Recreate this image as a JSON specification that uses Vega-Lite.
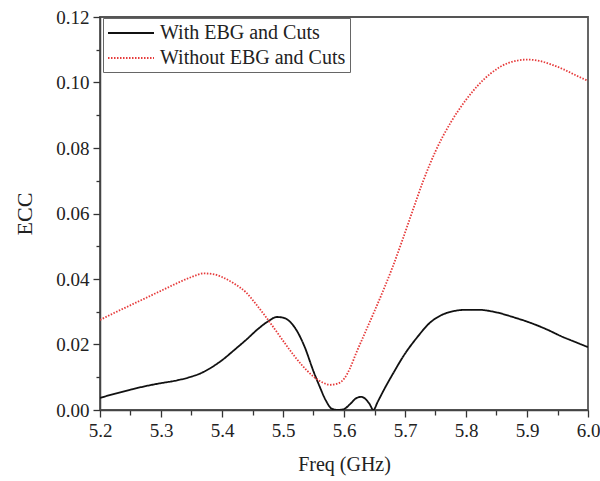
{
  "$schema": "https://vega.github.io/schema/vega-lite/v6.json",
  "autosize": "none",
  "width": 488,
  "height": 393,
  "padding": {"left": 100, "top": 17, "right": 12, "bottom": 71},
  "background": "white",
  "config": {
    "font": "Liberation Serif",
    "view": {"stroke": "#555555", "strokeWidth": 1.8},
    "axis": {"domainColor": "#444444", "domainWidth": 1.5, "tickColor": "#333333", "tickWidth": 1.3, "labelColor": "#222222", "titleColor": "#222222", "labelFont": "Liberation Serif", "titleFont": "Liberation Serif", "labelFontSize": 19, "titleFontSize": 20, "titleFontWeight": "normal", "grid": false}
  },
  "data": {
    "values": [
      {"series": "With EBG and Cuts", "f": 5.2, "v": 0.0037},
      {"series": "With EBG and Cuts", "f": 5.225, "v": 0.005},
      {"series": "With EBG and Cuts", "f": 5.25, "v": 0.0062},
      {"series": "With EBG and Cuts", "f": 5.275, "v": 0.0073},
      {"series": "With EBG and Cuts", "f": 5.3, "v": 0.0082},
      {"series": "With EBG and Cuts", "f": 5.325, "v": 0.009},
      {"series": "With EBG and Cuts", "f": 5.35, "v": 0.0102},
      {"series": "With EBG and Cuts", "f": 5.365, "v": 0.0112},
      {"series": "With EBG and Cuts", "f": 5.38, "v": 0.0127},
      {"series": "With EBG and Cuts", "f": 5.4, "v": 0.0152},
      {"series": "With EBG and Cuts", "f": 5.42, "v": 0.0183},
      {"series": "With EBG and Cuts", "f": 5.44, "v": 0.0215},
      {"series": "With EBG and Cuts", "f": 5.46, "v": 0.0249},
      {"series": "With EBG and Cuts", "f": 5.475, "v": 0.027},
      {"series": "With EBG and Cuts", "f": 5.49, "v": 0.0284},
      {"series": "With EBG and Cuts", "f": 5.5, "v": 0.0282},
      {"series": "With EBG and Cuts", "f": 5.51, "v": 0.0272},
      {"series": "With EBG and Cuts", "f": 5.52, "v": 0.025},
      {"series": "With EBG and Cuts", "f": 5.535, "v": 0.0195},
      {"series": "With EBG and Cuts", "f": 5.55, "v": 0.0118},
      {"series": "With EBG and Cuts", "f": 5.56, "v": 0.0072},
      {"series": "With EBG and Cuts", "f": 5.57, "v": 0.003},
      {"series": "With EBG and Cuts", "f": 5.58, "v": 0.0004},
      {"series": "With EBG and Cuts", "f": 5.59, "v": 0.0},
      {"series": "With EBG and Cuts", "f": 5.6, "v": 0.0003},
      {"series": "With EBG and Cuts", "f": 5.61, "v": 0.0018},
      {"series": "With EBG and Cuts", "f": 5.62, "v": 0.0036},
      {"series": "With EBG and Cuts", "f": 5.628, "v": 0.004},
      {"series": "With EBG and Cuts", "f": 5.635, "v": 0.0034},
      {"series": "With EBG and Cuts", "f": 5.642, "v": 0.0018},
      {"series": "With EBG and Cuts", "f": 5.648, "v": 0.0},
      {"series": "With EBG and Cuts", "f": 5.655, "v": 0.0024},
      {"series": "With EBG and Cuts", "f": 5.665, "v": 0.006},
      {"series": "With EBG and Cuts", "f": 5.68, "v": 0.011},
      {"series": "With EBG and Cuts", "f": 5.7, "v": 0.0172},
      {"series": "With EBG and Cuts", "f": 5.72, "v": 0.0222},
      {"series": "With EBG and Cuts", "f": 5.74, "v": 0.0265},
      {"series": "With EBG and Cuts", "f": 5.76, "v": 0.029},
      {"series": "With EBG and Cuts", "f": 5.78, "v": 0.0302},
      {"series": "With EBG and Cuts", "f": 5.8, "v": 0.0306},
      {"series": "With EBG and Cuts", "f": 5.82, "v": 0.0306},
      {"series": "With EBG and Cuts", "f": 5.85, "v": 0.0298},
      {"series": "With EBG and Cuts", "f": 5.88, "v": 0.0282},
      {"series": "With EBG and Cuts", "f": 5.9, "v": 0.027},
      {"series": "With EBG and Cuts", "f": 5.93, "v": 0.0248},
      {"series": "With EBG and Cuts", "f": 5.96, "v": 0.0222},
      {"series": "With EBG and Cuts", "f": 5.98, "v": 0.0207},
      {"series": "With EBG and Cuts", "f": 6.0, "v": 0.0192},
      {"series": "Without EBG and Cuts", "f": 5.2, "v": 0.0275},
      {"series": "Without EBG and Cuts", "f": 5.225, "v": 0.0298},
      {"series": "Without EBG and Cuts", "f": 5.25, "v": 0.032},
      {"series": "Without EBG and Cuts", "f": 5.275, "v": 0.0342},
      {"series": "Without EBG and Cuts", "f": 5.3, "v": 0.0364},
      {"series": "Without EBG and Cuts", "f": 5.325, "v": 0.0386},
      {"series": "Without EBG and Cuts", "f": 5.35, "v": 0.0406},
      {"series": "Without EBG and Cuts", "f": 5.37, "v": 0.0417},
      {"series": "Without EBG and Cuts", "f": 5.385, "v": 0.0415},
      {"series": "Without EBG and Cuts", "f": 5.4, "v": 0.0406},
      {"series": "Without EBG and Cuts", "f": 5.42, "v": 0.0386},
      {"series": "Without EBG and Cuts", "f": 5.44, "v": 0.0358},
      {"series": "Without EBG and Cuts", "f": 5.455, "v": 0.0325},
      {"series": "Without EBG and Cuts", "f": 5.47, "v": 0.0289},
      {"series": "Without EBG and Cuts", "f": 5.49, "v": 0.0238},
      {"series": "Without EBG and Cuts", "f": 5.51, "v": 0.0186},
      {"series": "Without EBG and Cuts", "f": 5.53, "v": 0.0139},
      {"series": "Without EBG and Cuts", "f": 5.55, "v": 0.0102},
      {"series": "Without EBG and Cuts", "f": 5.565, "v": 0.0084},
      {"series": "Without EBG and Cuts", "f": 5.577, "v": 0.0077},
      {"series": "Without EBG and Cuts", "f": 5.59, "v": 0.0081},
      {"series": "Without EBG and Cuts", "f": 5.6, "v": 0.0095},
      {"series": "Without EBG and Cuts", "f": 5.61, "v": 0.0128},
      {"series": "Without EBG and Cuts", "f": 5.62, "v": 0.0174},
      {"series": "Without EBG and Cuts", "f": 5.635, "v": 0.0238},
      {"series": "Without EBG and Cuts", "f": 5.65, "v": 0.0302},
      {"series": "Without EBG and Cuts", "f": 5.665, "v": 0.0368},
      {"series": "Without EBG and Cuts", "f": 5.68, "v": 0.0438},
      {"series": "Without EBG and Cuts", "f": 5.695, "v": 0.0515},
      {"series": "Without EBG and Cuts", "f": 5.71, "v": 0.0595},
      {"series": "Without EBG and Cuts", "f": 5.73, "v": 0.07},
      {"series": "Without EBG and Cuts", "f": 5.75, "v": 0.079},
      {"series": "Without EBG and Cuts", "f": 5.775, "v": 0.0878},
      {"series": "Without EBG and Cuts", "f": 5.8, "v": 0.0947},
      {"series": "Without EBG and Cuts", "f": 5.82, "v": 0.0992},
      {"series": "Without EBG and Cuts", "f": 5.84, "v": 0.1027},
      {"series": "Without EBG and Cuts", "f": 5.87, "v": 0.106},
      {"series": "Without EBG and Cuts", "f": 5.9, "v": 0.107},
      {"series": "Without EBG and Cuts", "f": 5.92, "v": 0.1066},
      {"series": "Without EBG and Cuts", "f": 5.94, "v": 0.1055},
      {"series": "Without EBG and Cuts", "f": 5.96, "v": 0.104},
      {"series": "Without EBG and Cuts", "f": 5.98, "v": 0.1022},
      {"series": "Without EBG and Cuts", "f": 6.0, "v": 0.1005}
    ]
  },
  "mark": {"type": "line", "interpolate": "monotone", "clip": true},
  "encoding": {
    "x": {
      "field": "f", "type": "quantitative",
      "scale": {"domain": [5.2, 6.0], "nice": false, "zero": false},
      "axis": {
        "title": "Freq (GHz)",
        "values": [5.2, 5.25, 5.3, 5.35, 5.4, 5.45, 5.5, 5.55, 5.6, 5.65, 5.7, 5.75, 5.8, 5.85, 5.9, 5.95, 6.0],
        "labelExpr": "abs(datum.value*10 - round(datum.value*10)) < 0.01 ? format(datum.value, '.1f') : ''",
        "tickSize": {"condition": {"test": "abs(datum.value*10 - round(datum.value*10)) > 0.01", "value": 5}, "value": 7},
        "labelPadding": 4,
        "labelFlush": false,
        "labelOverlap": false,
        "titlePadding": 14
      }
    },
    "y": {
      "field": "v", "type": "quantitative",
      "scale": {"domain": [0, 0.12], "nice": false},
      "axis": {
        "title": "ECC",
        "titleFontSize": 22,
        "values": [0, 0.01, 0.02, 0.03, 0.04, 0.05, 0.06, 0.07, 0.08, 0.09, 0.1, 0.11, 0.12],
        "labelExpr": "abs(datum.value*50 - round(datum.value*50)) < 0.01 ? format(datum.value, '.2f') : ''",
        "tickSize": {"condition": {"test": "abs(datum.value*50 - round(datum.value*50)) > 0.01", "value": 4}, "value": 7},
        "labelPadding": 4,
        "labelFlush": false,
        "labelOverlap": false,
        "titlePadding": 19
      }
    },
    "color": {
      "field": "series", "type": "nominal",
      "scale": {"domain": ["With EBG and Cuts", "Without EBG and Cuts"], "range": ["#111111", "#e63b3b"]},
      "legend": {
        "title": null,
        "orient": "none",
        "legendX": 3,
        "legendY": 1,
        "symbolType": "M-1,0H3.6",
        "symbolSize": 400,
        "symbolStrokeWidth": 1.8,
        "labelFont": "Liberation Serif",
        "labelFontSize": 20,
        "labelLimit": 400,
        "labelColor": "#222222",
        "labelOffset": 31,
        "strokeColor": "#666666",
        "padding": 4,
        "rowPadding": 4,
        "fillColor": "white"
      }
    },
    "strokeDash": {
      "field": "series", "type": "nominal",
      "scale": {"domain": ["With EBG and Cuts", "Without EBG and Cuts"], "range": [[1, 0], [1.5, 1.5]]},
      "legend": null
    },
    "strokeWidth": {"value": 1.8}
  }
}
